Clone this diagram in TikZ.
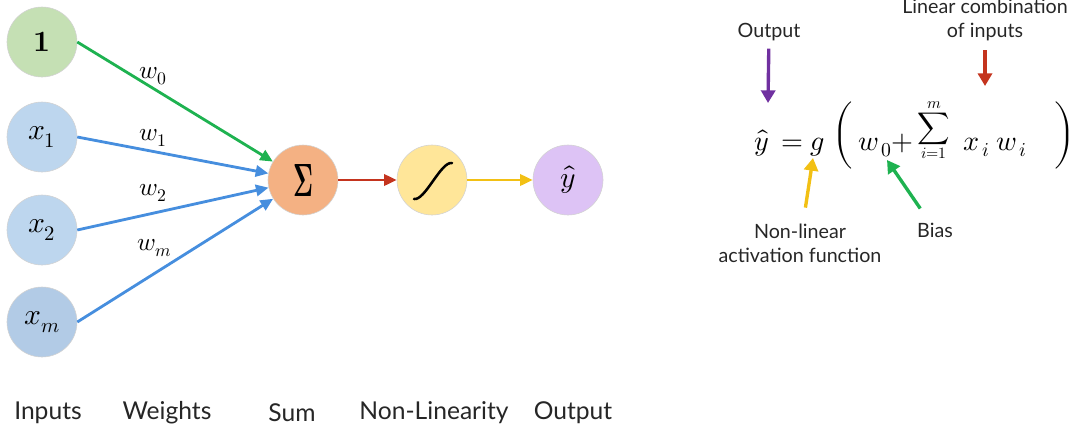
\documentclass[tikz,border=0pt]{standalone}
\usepackage{amsmath}
\usepackage{graphicx}
\usepackage{unicode-math}
\setmainfont{Lato}
\setmathfont{Latin Modern Math}
\usetikzlibrary{arrows.meta}

\definecolor{biasgreen}{RGB}{197,224,180}
\definecolor{inblue}{RGB}{189,214,238}
\definecolor{inbluedark}{RGB}{178,203,230}
\definecolor{sumorange}{RGB}{244,177,131}
\definecolor{actyellow}{RGB}{255,230,153}
\definecolor{outpurple}{RGB}{221,195,245}
\definecolor{arrgreen}{RGB}{30,178,80}
\definecolor{arrblue}{RGB}{70,142,222}
\definecolor{arrred}{RGB}{196,52,30}
\definecolor{arryellow}{RGB}{242,192,20}
\definecolor{arrpurple}{RGB}{112,48,160}

\tikzset{
	neuron/.style={circle,draw=gray!35,thin,minimum size=1.75cm,inner sep=0pt,
		font=\fontsize{21}{25}\selectfont},
	conn/.style={line width=2pt,-{Triangle[length=9pt,width=8pt]}},
	note/.style={line width=2.4pt,-{Triangle[length=9pt,width=10pt]}},
	weight/.style={font=\fontsize{18}{21}\selectfont},
	caption/.style={font=\fontsize{17.5}{21}\selectfont,text=black!85},
	annot/.style={font=\fontsize{14}{17}\selectfont,text=black!85},
	eq/.style={font=\fontsize{20}{24}\selectfont,inner sep=0pt}
}

\begin{document}
\begin{tikzpicture}[x=0.025cm,y=-0.025cm]
	\useasboundingbox (0,0) rectangle (1075,435);

	% perceptron
	\node[neuron,fill=biasgreen] (one) at (42,42) {$\symbf{1}$};
	\node[neuron,fill=inblue] (x1) at (42,137) {$x_1$};
	\node[neuron,fill=inblue] (x2) at (42,230) {$x_2$};
	\node[neuron,fill=inbluedark] (xm) at (42,322) {$x_m$};
	\node[neuron,fill=sumorange] (sum) at (303,180) {\resizebox{0.5cm}{0.8cm}{$\symbf{\Sigma}$}};
	\node[neuron,fill=actyellow] (act) at (432,180) {};
	\node[neuron,fill=outpurple] (out) at (568,180) {$\hat{y}$};

	\draw[conn,arrgreen] (one.east) -- (sum);
	\draw[conn,arrblue] (x1.east) -- (sum);
	\draw[conn,arrblue] (x2.east) -- (sum);
	\draw[conn,arrblue] (xm.east) -- (sum);
	\draw[conn,arrred] (sum) -- (act);
	\draw[conn,arryellow] (act) -- (out);

	\draw[line width=1.8pt,line cap=round] (414,199) .. controls (425,201) and (441,161) .. (452,163);

	\node[weight] (w0) at (153,76) {$w_0$};
	\node[weight] (w1) at (153,138) {$w_1$};
	\node[weight] (w2) at (153,193) {$w_2$};
	\node[weight] (wm) at (155,248) {$w_m$};

	\node[caption] (inputs) at (48,413) {Inputs};
	\node[caption] (weights) at (167,413) {Weights};
	\node[caption] (sumlbl) at (292,413) {Sum};
	\node[caption] (nonlin) at (434,413) {Non-Linearity};
	\node[caption] (output) at (573,413) {Output};

	% equation
	\node[eq,anchor=base] (yhat) at (762,150) {$\hat{y}$};
	\node[eq,anchor=base] (eqsign) at (792,150) {$=$};
	\node[eq,anchor=base] (gfun) at (818,150) {$g$};
	\node[eq] (lpar) at (843,135) {$\bigg($};
	\node[eq,anchor=base] (wzero) at (875,150) {$w_{\,0}$};
	\node[eq,anchor=base] (plus) at (902,150) {$+$};
	\node[eq,font=\fontsize{16}{19}\selectfont] (sumsym) at (934,130) {$\displaystyle\sum_{i=1}^{m}$};
	\node[eq,anchor=base] (xi) at (977,150) {$x_{\,i}$};
	\node[eq,anchor=base] (wi) at (1012,150) {$w_{\,i}$};
	\node[eq] (rpar) at (1065,135) {$\bigg)$};

	\node[annot] (outnote) at (769,32) {Output};
	\node[annot,align=center] (linnote) at (985,20) {Linear combination\\of inputs};
	\node[annot,align=center] (actnote) at (800,243) {Non-linear\\activation function};
	\node[annot] (biasnote) at (935,230) {Bias};

	\coordinate (outtip) at (768,103);
	\coordinate (lintip) at (985,86);
	\coordinate (acttip) at (813,158);
	\coordinate (biastip) at (887,160);

	\draw[note,arrpurple,shorten <=2pt] (outnote) -- (outtip);
	\draw[note,arrred,shorten <=3pt] (linnote) -- (lintip);
	\draw[note,arryellow,shorten <=8pt] (actnote) -- (acttip);
	\draw[note,arrgreen,shorten <=8pt] (biasnote) -- (biastip);

\end{tikzpicture}
\end{document}
